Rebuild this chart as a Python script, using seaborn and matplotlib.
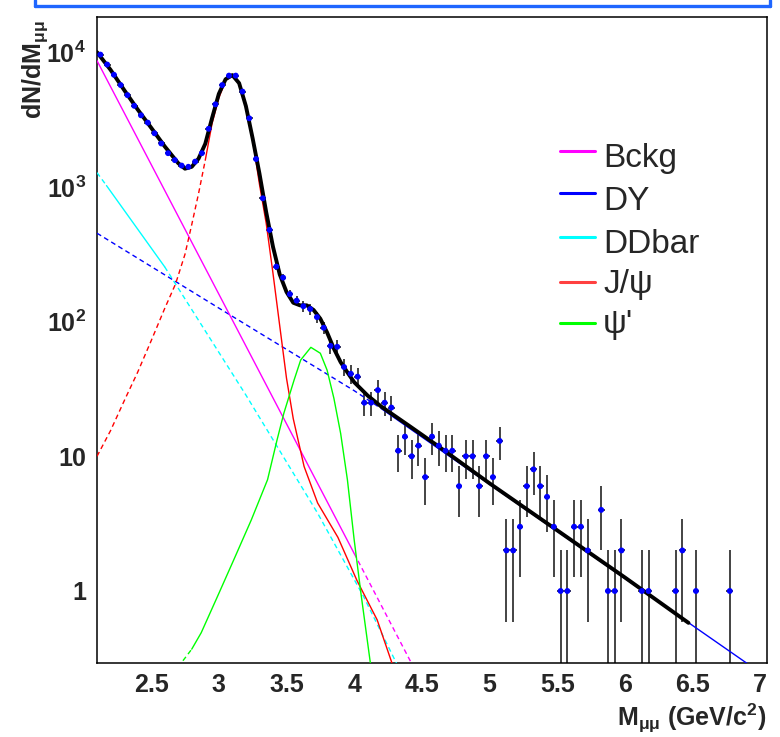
import numpy as np
import matplotlib
matplotlib.use("Agg")
import matplotlib.pyplot as plt
import seaborn as sns
from matplotlib.lines import Line2D
from matplotlib.ticker import FixedLocator, MultipleLocator, LogLocator, NullFormatter, FixedFormatter, FuncFormatter

# ---------------- data ----------------
mass = [2.125, 2.175, 2.225, 2.275, 2.325, 2.375, 2.425, 2.475, 2.525, 2.575,
        2.625, 2.675, 2.725, 2.775, 2.825, 2.875, 2.925, 2.975, 3.025, 3.075,
        3.125, 3.175, 3.225, 3.275, 3.325, 3.375, 3.425, 3.475, 3.525, 3.575,
        3.625, 3.675, 3.725, 3.775, 3.825, 3.875, 3.925, 3.975, 4.025, 4.075,
        4.125, 4.175, 4.225, 4.275, 4.325, 4.375, 4.425, 4.475, 4.525, 4.575,
        4.625, 4.675, 4.725, 4.775, 4.825, 4.875, 4.925, 4.975, 5.025, 5.075,
        5.125, 5.175, 5.225, 5.275, 5.325, 5.375, 5.425, 5.475, 5.525, 5.575,
        5.625, 5.675, 5.725, 5.825, 5.875, 5.925, 5.975, 6.125, 6.175, 6.375,
        6.425, 6.525, 6.775]
counts = [9600, 8100, 6800, 5700, 4800, 4000, 3400, 3000, 2500, 2100,
          1780, 1580, 1440, 1410, 1540, 1780, 2700, 4100, 5700, 6700,
          6700, 5100, 3230, 1610, 823, 479, 256, 212, 160, 143,
          130, 124, 108, 90, 66, 65, 46, 41, 39, 25,
          25, 31, 25, 23, 11, 14, 10, 12, 7, 14,
          12, 11, 11, 6, 10, 10, 6, 10, 7, 13,
          2, 2, 3, 6, 8, 6, 5, 3, 1, 1,
          3, 3, 2, 4, 1, 1, 2, 1, 1, 1,
          2, 1, 1]

total_x = [2.1, 2.2, 2.3, 2.4, 2.5, 2.6, 2.7, 2.75, 2.8, 2.85, 2.9, 2.95, 3.0, 3.05,
           3.1, 3.15, 3.2, 3.25, 3.3, 3.35, 3.4, 3.45, 3.5, 3.55, 3.6, 3.65, 3.7,
           3.75, 3.8, 3.85, 3.9, 3.95, 4.0, 4.1, 4.2, 4.4, 4.6, 5.0, 5.5, 6.0, 6.47]
total_y = [10000, 7400, 5250, 3760, 2750, 2000, 1500, 1365, 1410, 1620, 2090, 3240,
           4900, 6300, 6760, 5890, 3980, 2290, 1260, 650, 360, 224, 166, 138, 132,
           132, 122, 105, 83, 63, 50, 42, 35.5, 28.2, 23.4, 17, 12.3, 6.3, 2.82,
           1.26, 0.58]

bckg_solid_x = [2.1, 4.0]
bckg_solid_y = [8650, 1.9]
bckg_dash_x = [4.0, 4.5]
bckg_dash_y = [1.9, 0.207]

dy_dash_x = [2.1, 3.0, 4.0, 4.2]
dy_dash_y = [453, 126, 30.7, 22.6]
dy_solid_x = [4.2, 5.0, 6.0, 7.0]
dy_solid_y = [22.6, 6.2, 1.24, 0.248]

dd_dash1_x = [2.1, 2.17]
dd_dash1_y = [1276, 1023]
dd_solid_x = [2.17, 2.6]
dd_solid_y = [1023, 255]
dd_dash2_x = [2.6, 3.2, 3.73, 4.07, 4.31, 4.35]
dd_dash2_y = [255, 28.5, 3.78, 0.908, 0.294, 0.24]

jpsi_dash_x = [2.1, 2.2, 2.31, 2.4, 2.5, 2.6, 2.68, 2.75, 2.8, 2.85, 2.9]
jpsi_dash_y = [10, 15.5, 27, 42, 72, 125, 190, 316, 525, 890, 1580]
jpsi_solid_x = [2.9, 2.95, 3.0, 3.05, 3.1, 3.15, 3.2, 3.25, 3.3, 3.35, 3.4, 3.45,
                3.5, 3.55, 3.63, 3.73, 3.88, 4.02, 4.17, 4.28, 4.32]
jpsi_solid_y = [1580, 2950, 4570, 6170, 6680, 5820, 3890, 2240, 1050, 537, 229, 93,
                38, 19, 8.4, 4.5, 2.5, 1.2, 0.61, 0.29, 0.22]

psi2_dash_x = [2.70, 2.72, 2.80]
psi2_dash_y = [0.27, 0.29, 0.37]
psi2_solid_x = [2.80, 2.87, 2.99, 3.11, 3.24, 3.36, 3.43, 3.48, 3.556, 3.605, 3.68,
                3.75, 3.8, 3.85, 3.9, 3.95, 4.0, 4.05, 4.12, 4.14]
psi2_solid_y = [0.37, 0.49, 0.91, 1.7, 3.37, 6.7, 13.2, 20.8, 36.8, 51.9, 64.4,
                58.2, 43.6, 27, 14.8, 6.7, 2.4, 0.96, 0.29, 0.24]

legend_labels = ["Bckg", "DY", "DDbar", "J/\u03c8", "\u03c8'"]
legend_colors = ["#ff00ff", "#0000ff", "#00ffff", "#ff4040", "#00ff00"]

x_ticks = [2.5, 3, 3.5, 4, 4.5, 5, 5.5, 6, 6.5, 7]
y_ticks = [1, 10, 100, 1000, 10000]
y_tick_labels = ["1", "10", r"$10^{2}$", r"$10^{3}$", r"$10^{4}$"]

# ---------------- style ----------------
sns.set_style("white")
plt.rcParams["font.family"] = ["Liberation Sans", "DejaVu Sans"]
plt.rcParams["mathtext.fontset"] = "custom"
plt.rcParams["mathtext.rm"] = "Liberation Sans:bold"
plt.rcParams["mathtext.bf"] = "Liberation Sans:bold"
plt.rcParams["mathtext.it"] = "Liberation Sans:bold"
plt.rcParams["mathtext.sf"] = "Liberation Sans:bold"

W, H = 780, 737
fig = plt.figure(figsize=(W / 100, H / 100), dpi=100)
fig.patch.set_facecolor("white")
ax = fig.add_axes([97 / W, 1 - 663 / H, (767 - 97) / W, (663 - 17) / H])
ax.set_yscale("log", nonpositive="clip")
ax.set_xlim(2.1, 7.05)
ax.set_ylim(0.292, 18250)

# data points
yerr = np.sqrt(np.array(counts, dtype=float))
ax.errorbar(mass, counts, yerr=yerr, xerr=0.025, fmt="none", ecolor="#111111",
            elinewidth=1.1, capsize=0, zorder=2)
sns.scatterplot(x=mass, y=counts, ax=ax, color="#0000ff", s=18, edgecolor="none",
                marker="o", zorder=5, legend=False)

DASH = (0, (3.5, 2.5))


def draw(xs, ys, color, lw, dashed, z):
    sns.lineplot(x=xs, y=ys, ax=ax, color=color, lw=lw,
                 linestyle=DASH if dashed else "-", estimator=None, sort=False,
                 zorder=z, legend=False)


draw(dy_dash_x, dy_dash_y, "#0000ff", 1.0, True, 3)
draw(dy_solid_x, dy_solid_y, "#0000ff", 1.0, False, 3)
draw(dd_dash1_x, dd_dash1_y, "#00ffff", 1.0, True, 3)
draw(dd_solid_x, dd_solid_y, "#00ffff", 1.0, False, 3)
draw(dd_dash2_x, dd_dash2_y, "#00ffff", 1.0, True, 3)
draw(bckg_solid_x, bckg_solid_y, "#ff00ff", 1.0, False, 3)
draw(bckg_dash_x, bckg_dash_y, "#ff00ff", 1.0, True, 3)
draw(jpsi_dash_x, jpsi_dash_y, "#ff0000", 1.0, True, 3)
draw(jpsi_solid_x, jpsi_solid_y, "#ff0000", 1.0, False, 3)
draw(psi2_dash_x, psi2_dash_y, "#00ff00", 1.0, True, 3)
draw(psi2_solid_x, psi2_solid_y, "#00ff00", 1.0, False, 3)
draw(total_x, total_y, "#000000", 2.8, False, 4)

# axes / ticks
for s in ax.spines.values():
    s.set_linewidth(1.1)
    s.set_color("black")
ax.xaxis.set_major_locator(FixedLocator(x_ticks))
ax.xaxis.set_minor_locator(MultipleLocator(0.1))
ax.xaxis.set_major_formatter(FuncFormatter(lambda v, p: f"{v:g}"))
ax.yaxis.set_major_locator(FixedLocator(y_ticks))
ax.yaxis.set_major_formatter(FixedFormatter(y_tick_labels))
ax.yaxis.set_minor_locator(LogLocator(base=10, subs=range(2, 10), numticks=20))
ax.yaxis.set_minor_formatter(NullFormatter())
ax.tick_params(axis="both", which="major", direction="in", length=14.4, width=1.1,
               top=False, right=False, labelsize=18, color="#222222")
ax.tick_params(axis="both", which="minor", direction="in", length=7.2, width=1.1,
               top=False, right=False, color="#222222")
ax.tick_params(axis="x", which="major", pad=7)
ax.tick_params(axis="y", which="major", pad=8)
for lab in ax.get_xticklabels() + ax.get_yticklabels():
    lab.set_fontweight("bold")
ax.set_xlabel("")
ax.set_ylabel("")
ax.grid(False)

# axis titles
fig.text(35 / W, 1 - 20 / H, r"dN/dM$_{\mu\mu}$", rotation=90, ha="center", va="top",
         fontsize=18, fontweight="bold")
fig.text(766 / W, 1 - 726 / H, r"M$_{\mu\mu}$ (GeV/c$^{2}$)", ha="right", va="baseline",
         fontsize=18, fontweight="bold")

# legend (drawn by hand, ROOT style)
line_y = [151.3, 193.3, 237.3, 281.7, 323.3]
text_base = [167, 210, 253, 293, 333]
for lab, col, ly, tb in zip(legend_labels, legend_colors, line_y, text_base):
    fig.add_artist(Line2D([560 / W, 595 / W], [1 - ly / H, 1 - ly / H], color=col,
                          lw=2.2, transform=fig.transFigure))
    fig.text(603 / W, 1 - tb / H, lab, ha="left", va="baseline", fontsize=24)

# blue frame remnant at the top
frame_col = "#1f66ff"
fig.add_artist(Line2D([35 / W, 770 / W], [1 - 6 / H, 1 - 6 / H], color=frame_col, lw=2.4,
                      transform=fig.transFigure))
fig.add_artist(Line2D([35 / W, 35 / W], [1 - 6 / H, 1.0], color=frame_col, lw=2.4,
                      transform=fig.transFigure))
fig.add_artist(Line2D([770 / W, 770 / W], [1 - 6 / H, 1.0], color=frame_col, lw=2.4,
                      transform=fig.transFigure))

fig.savefig("out.png", dpi=100)
